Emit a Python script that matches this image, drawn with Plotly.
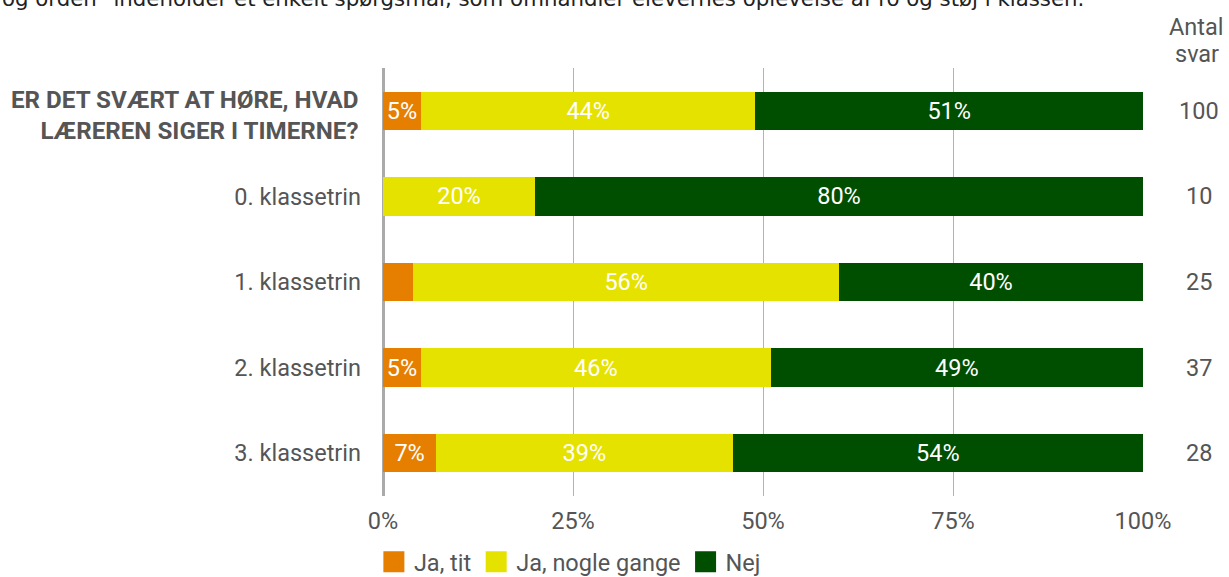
import plotly.graph_objects as go

categories = [
    "ER DET SVÆRT AT HØRE, HVAD<br>LÆREREN SIGER I TIMERNE?",
    "0. klassetrin",
    "1. klassetrin",
    "2. klassetrin",
    "3. klassetrin",
]
series_names = ["Ja, tit", "Ja, nogle gange", "Nej"]
ja_tit = [5, 0, 4, 5, 7]
ja_nogle = [44, 20, 56, 46, 39]
nej = [51, 80, 40, 49, 54]
antal_svar = [100, 10, 25, 37, 28]
x_ticks = [0, 25, 50, 75, 100]
x_tick_labels = ["0%", "25%", "50%", "75%", "100%"]
colors = ["#E67E00", "#E6E200", "#004E00"]

FONT = "Roboto"
FS = 23.5
TXT = "#555555"

fig = go.Figure()
for name, vals, col in zip(series_names, [ja_tit, ja_nogle, nej], colors):
    labels = [f"{v}%" if v >= 5 else "" for v in vals]
    fig.add_trace(go.Bar(
        y=categories, x=vals, name=name, orientation="h",
        marker=dict(color=col, line=dict(width=0)),
        text=labels, textposition="inside", insidetextanchor="middle",
        textfont=dict(family=FONT, size=FS, color="white"),
        width=0.45, showlegend=False, hoverinfo="skip",
    ))
    # legend entry
    fig.add_trace(go.Scatter(
        x=[None], y=[None], mode="markers", name=name,
        marker=dict(symbol="square", size=16, color=col,
                    line=dict(color=col, width=5)),
        showlegend=True,
    ))

# header question label (bold, drawn as annotation so it can sit slightly lower)
fig.add_annotation(x=-22 / 760, xref="paper", y=categories[0], yref="y",
                   text="<b>" + categories[0] + "</b>", showarrow=False,
                   xanchor="right", yanchor="middle", align="right", yshift=-4.5,
                   font=dict(family=FONT, size=24.2, color=TXT))

for cat, n in zip(categories, antal_svar):
    fig.add_annotation(x=1.0737, xref="paper", y=cat, yref="y", text=str(n),
                       showarrow=False, xanchor="center", yanchor="middle",
                       font=dict(family=FONT, size=FS, color=TXT))

fig.add_annotation(x=1.071, xref="paper", y=(496 - 27) / 428, yref="paper",
                   text="Antal", showarrow=False,
                   xanchor="center", yanchor="middle",
                   font=dict(family=FONT, size=FS, color=TXT))
fig.add_annotation(x=1.071, xref="paper", y=(496 - 54) / 428, yref="paper",
                   text="svar", showarrow=False,
                   xanchor="center", yanchor="middle",
                   font=dict(family=FONT, size=FS, color=TXT))

fig.add_annotation(x=-0.504, xref="paper", y=(496 + 1.5) / 428, yref="paper",
                   text="og orden\" indeholder et enkelt spørgsmål, som omhandler elevernes oplevelse af ro og støj i klassen.",
                   showarrow=False, xanchor="left", yanchor="middle",
                   font=dict(family="DejaVu Sans", size=21.3, color="#222222"))

fig.update_layout(
    width=1229, height=577,
    margin=dict(l=383, r=86, t=68, b=81, autoexpand=False),
    barmode="stack", bargap=0.55,
    plot_bgcolor="white", paper_bgcolor="white",
    font=dict(family=FONT, size=FS, color=TXT),
    xaxis=dict(range=[0, 100], tickvals=x_ticks, ticktext=x_tick_labels,
               showgrid=True, gridcolor="#b3b3b3", gridwidth=1,
               zeroline=True, zerolinecolor="#aaaaaa", zerolinewidth=3,
               showline=False, ticks="", ticklabelstandoff=8,
               tickfont=dict(family=FONT, size=FS, color=TXT), fixedrange=True),
    yaxis=dict(categoryorder="array", categoryarray=categories,
               tickmode="array", tickvals=categories,
               ticktext=[""] + categories[1:],
               autorange="reversed", showgrid=False, zeroline=False,
               ticks="", ticklabelstandoff=21,
               tickfont=dict(family=FONT, size=FS, color=TXT)),
    legend=dict(orientation="h", x=-0.012, xanchor="left", y=-0.154, yanchor="middle",
                traceorder="normal",
                font=dict(family=FONT, size=FS, color=TXT),
                itemwidth=30, tracegroupgap=0, bgcolor="rgba(0,0,0,0)"),
    showlegend=True,
)

fig.write_html("out.html", config={"displayModeBar": False},
               post_script="document.body.style.margin='0';")
